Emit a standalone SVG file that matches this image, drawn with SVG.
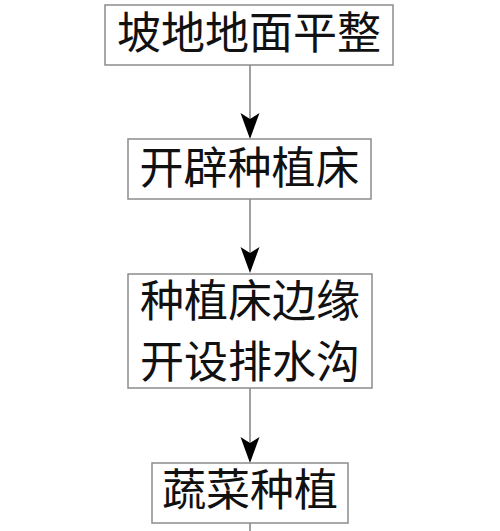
<svg xmlns="http://www.w3.org/2000/svg" width="500" height="531" viewBox="0 0 500 531">
<style>
.box{fill:#fff;stroke:#8c8c8c;stroke-width:1.5}
.t{font-family:"Liberation Serif","Noto Sans CJK SC",serif;font-size:44px;fill:#111;text-anchor:middle;dominant-baseline:central}
.ln{stroke:#a0a0a0;stroke-width:2;fill:none}
.ah{fill:#000}
</style>
<defs>
<path id="arr" class="ah" d="M-9.5,0 L0,6 L9.5,0 L0,26 Z"/>
</defs>
<rect width="500" height="531" fill="#fff"/>
<g id="connectors">
<line class="ln" x1="250" y1="65" x2="250" y2="130"/>
<use href="#arr" x="250" y="113"/>
<line class="ln" x1="250" y1="199" x2="250" y2="265"/>
<use href="#arr" x="250" y="247"/>
<line class="ln" x1="250" y1="388" x2="250" y2="455"/>
<use href="#arr" x="250" y="437"/>
<line class="ln" x1="250" y1="523" x2="250" y2="531"/>
</g>
<g id="n1">
<rect class="box" x="105" y="5" width="288" height="60"/>
<text class="t" x="249" y="34">坡地地面平整</text>
</g>
<g id="n2">
<rect class="box" x="128" y="139" width="243" height="60"/>
<text class="t" x="249.5" y="169">开辟种植床</text>
</g>
<g id="n3">
<rect class="box" x="128" y="274" width="244" height="114"/>
<text class="t" x="250" y="302">种植床边缘</text>
<text class="t" x="250" y="363">开设排水沟</text>
</g>
<g id="n4">
<rect class="box" x="152" y="463" width="196" height="60"/>
<text class="t" x="250" y="491">蔬菜种植</text>
</g>
</svg>
